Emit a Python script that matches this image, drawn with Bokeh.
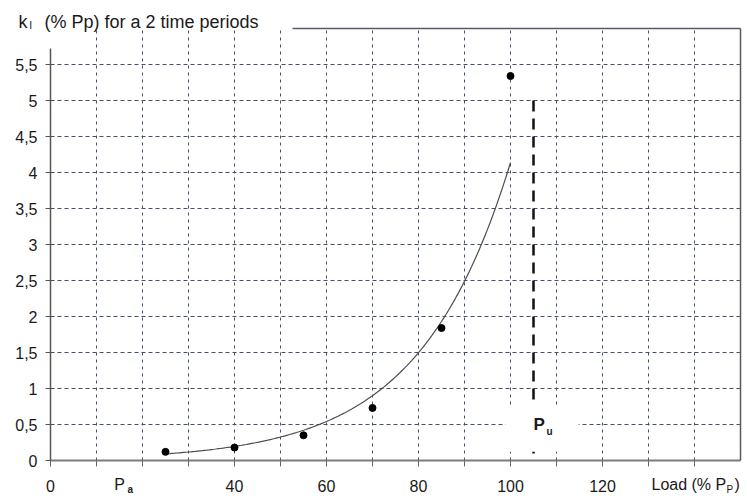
import numpy as np
from bokeh.plotting import figure
from bokeh.models import (Range1d, LinearAxis, FixedTicker, CustomJSTickFormatter,
                          Label, BoxAnnotation, Grid)
from bokeh.embed import file_html
from bokeh.resources import INLINE

# Creep coefficient k_l measured over two time periods, per load step (% of Pp)
load_pct = [25, 40, 55, 70, 85, 100]
k_l = [0.12, 0.18, 0.35, 0.73, 1.84, 5.34]

# Ultimate load marker (dashed vertical) and admissible load label position
p_u_load = 105
p_u_top = 5.0
p_a_load = 15

X_MAX = 150
Y_MAX = 6
x_ticks = list(range(0, 150, 10))
x_tick_labels = {0: "0", 40: "40", 60: "60", 80: "80", 100: "100", 120: "120"}
x_grid = list(range(10, 150, 10))
y_ticks = [0, 0.5, 1, 1.5, 2, 2.5, 3, 3.5, 4, 4.5, 5, 5.5]
y_grid = y_ticks[1:]

FONT = "Liberation Sans"
INK = "#1a1a1a"
GRID = "#46506a"

W, H = 747, 500
PAD_L, PAD_B, PAD_T = 50, 40, 28          # space round the plotting area, px
sx = (W - PAD_L - 7) / X_MAX              # px per load unit
sy = (H - PAD_B - PAD_T) / Y_MAX          # px per k_l unit

# the frame spans the whole canvas; axes sit at fixed data locations
p = figure(width=W, height=H, output_backend="svg", toolbar_location=None,
           x_range=Range1d(-PAD_L / sx, (W - PAD_L) / sx),
           y_range=Range1d(-PAD_B / sy, (H - PAD_B) / sy),
           x_axis_type=None, y_axis_type=None)
p.min_border = 0
p.outline_line_color = None
p.background_fill_color = "white"
p.border_fill_color = "white"

# dashed grid, limited to the data area
has_cross = "cross_bounds" in Grid.properties()
if has_cross:
    p.add_layout(Grid(dimension=0, ticker=FixedTicker(ticks=x_grid), bounds=(0, X_MAX),
                      cross_bounds=(0, Y_MAX), grid_line_color=GRID, grid_line_dash="3 4"))
    p.add_layout(Grid(dimension=1, ticker=FixedTicker(ticks=y_grid), bounds=(0, Y_MAX),
                      cross_bounds=(0, X_MAX), grid_line_color=GRID, grid_line_dash="4 3"))
else:
    p.multi_line([[t, t] for t in x_grid], [[0, Y_MAX] for _ in x_grid],
                 line_color=GRID, line_dash="3 4", line_width=1)
    p.multi_line([[0, X_MAX] for _ in y_grid], [[t, t] for t in y_grid],
                 line_color=GRID, line_dash="4 3", line_width=1)

# bottom axis: labelled ticks at 0, 40..120, short ticks every 10
xaxis = LinearAxis(ticker=FixedTicker(ticks=x_ticks), fixed_location=0, bounds=(0, X_MAX),
                   major_label_overrides={t: x_tick_labels.get(t, "") for t in x_ticks})
xaxis.axis_line_color = "#7c7c7c"
xaxis.axis_line_width = 2
xaxis.major_tick_line_color = "#666666"
xaxis.major_tick_out = 6
xaxis.major_tick_in = 0
xaxis.minor_tick_line_color = None
xaxis.major_label_standoff = 13
xaxis.major_label_text_font = FONT
xaxis.major_label_text_font_size = "16px"
xaxis.major_label_text_color = INK
p.add_layout(xaxis, "below")

# left axis with comma decimals; line stops below the title
yaxis = LinearAxis(ticker=FixedTicker(ticks=y_ticks), fixed_location=0, bounds=(0, 5.72),
                   formatter=CustomJSTickFormatter(code="return tick.toString().replace('.', ',');"))
yaxis.axis_line_color = "#555555"
yaxis.axis_line_width = 1.5
yaxis.major_tick_line_color = "#555555"
yaxis.major_tick_out = 5
yaxis.major_tick_in = 0
yaxis.minor_tick_line_color = None
yaxis.major_label_standoff = 8
yaxis.major_label_text_font = FONT
yaxis.major_label_text_font_size = "16px"
yaxis.major_label_text_color = INK
p.add_layout(yaxis, "left")

# frame lines on top and right (top one starts after the title)
for side, loc, bounds in (("above", Y_MAX, (52.6, X_MAX)), ("right", X_MAX, (0, Y_MAX))):
    ax = LinearAxis(ticker=FixedTicker(ticks=[]), fixed_location=loc, bounds=bounds)
    ax.axis_line_color = "#555a66"
    ax.axis_line_width = 1.5
    ax.major_tick_out = 0
    ax.major_tick_in = 0
    ax.minor_tick_line_color = None
    ax.major_label_standoff = 0
    ax.major_label_text_font_size = "0px"
    p.add_layout(ax, side)

# exponential trend line fitted to the measured points
coef = np.polyfit(load_pct, np.log(k_l), 1)
trend_x = np.linspace(min(load_pct), max(load_pct), 151)
trend_y = np.exp(np.polyval(coef, trend_x))
p.line(trend_x, trend_y, line_color="#4d4d4d", line_width=1.2)

# measured points
p.scatter(load_pct, k_l, size=7, color="black")

# ultimate load line
p.line([p_u_load, p_u_load], [p_u_top, 0], line_color="#111111", line_width=2.5,
       line_dash="11 7")

# white patch behind the P_u label
p.add_layout(BoxAnnotation(left=p_u_load - 6.1, right=p_u_load + 9.8, bottom=0.12, top=0.77,
                           fill_color="white", fill_alpha=1, line_color=None))


def label(x, y, text, size, dx=0, dy=0, bold=False, align="left"):
    p.add_layout(Label(x=x, y=y, x_offset=dx, y_offset=dy, text=text,
                       text_font=FONT, text_font_size=f"{size}px",
                       text_font_style="bold" if bold else "normal",
                       text_color=INK, text_align=align, text_baseline="alphabetic"))


# title: k_l (% Pp) for a 2 time periods
label(0, Y_MAX, "k", 18, dx=-32, dy=7)
label(0, Y_MAX, "l", 11, dx=-21, dy=4)
label(0, Y_MAX, "(% Pp) for a 2 time periods", 18, dx=-6, dy=7)

# P_a under the x axis
label(p_a_load, 0, "P", 16, dx=0, dy=-24, align="center")
label(p_a_load, 0, "a", 10, dx=8, dy=-29, bold=True)

# x axis title: Load (% P_P)
label(140, 0, "Load (% P", 16, dx=-43, dy=-24)
label(140, 0, "P", 10, dx=32, dy=-29)
label(140, 0, ")", 16, dx=40, dy=-24)

# P_u next to the dashed line
label(p_u_load, 0, "P", 17, dx=0, dy=36, bold=True)
label(p_u_load, 0, "u", 10, dx=13, dy=29, bold=True)

open("out.html", "w").write(file_html(p, INLINE))
